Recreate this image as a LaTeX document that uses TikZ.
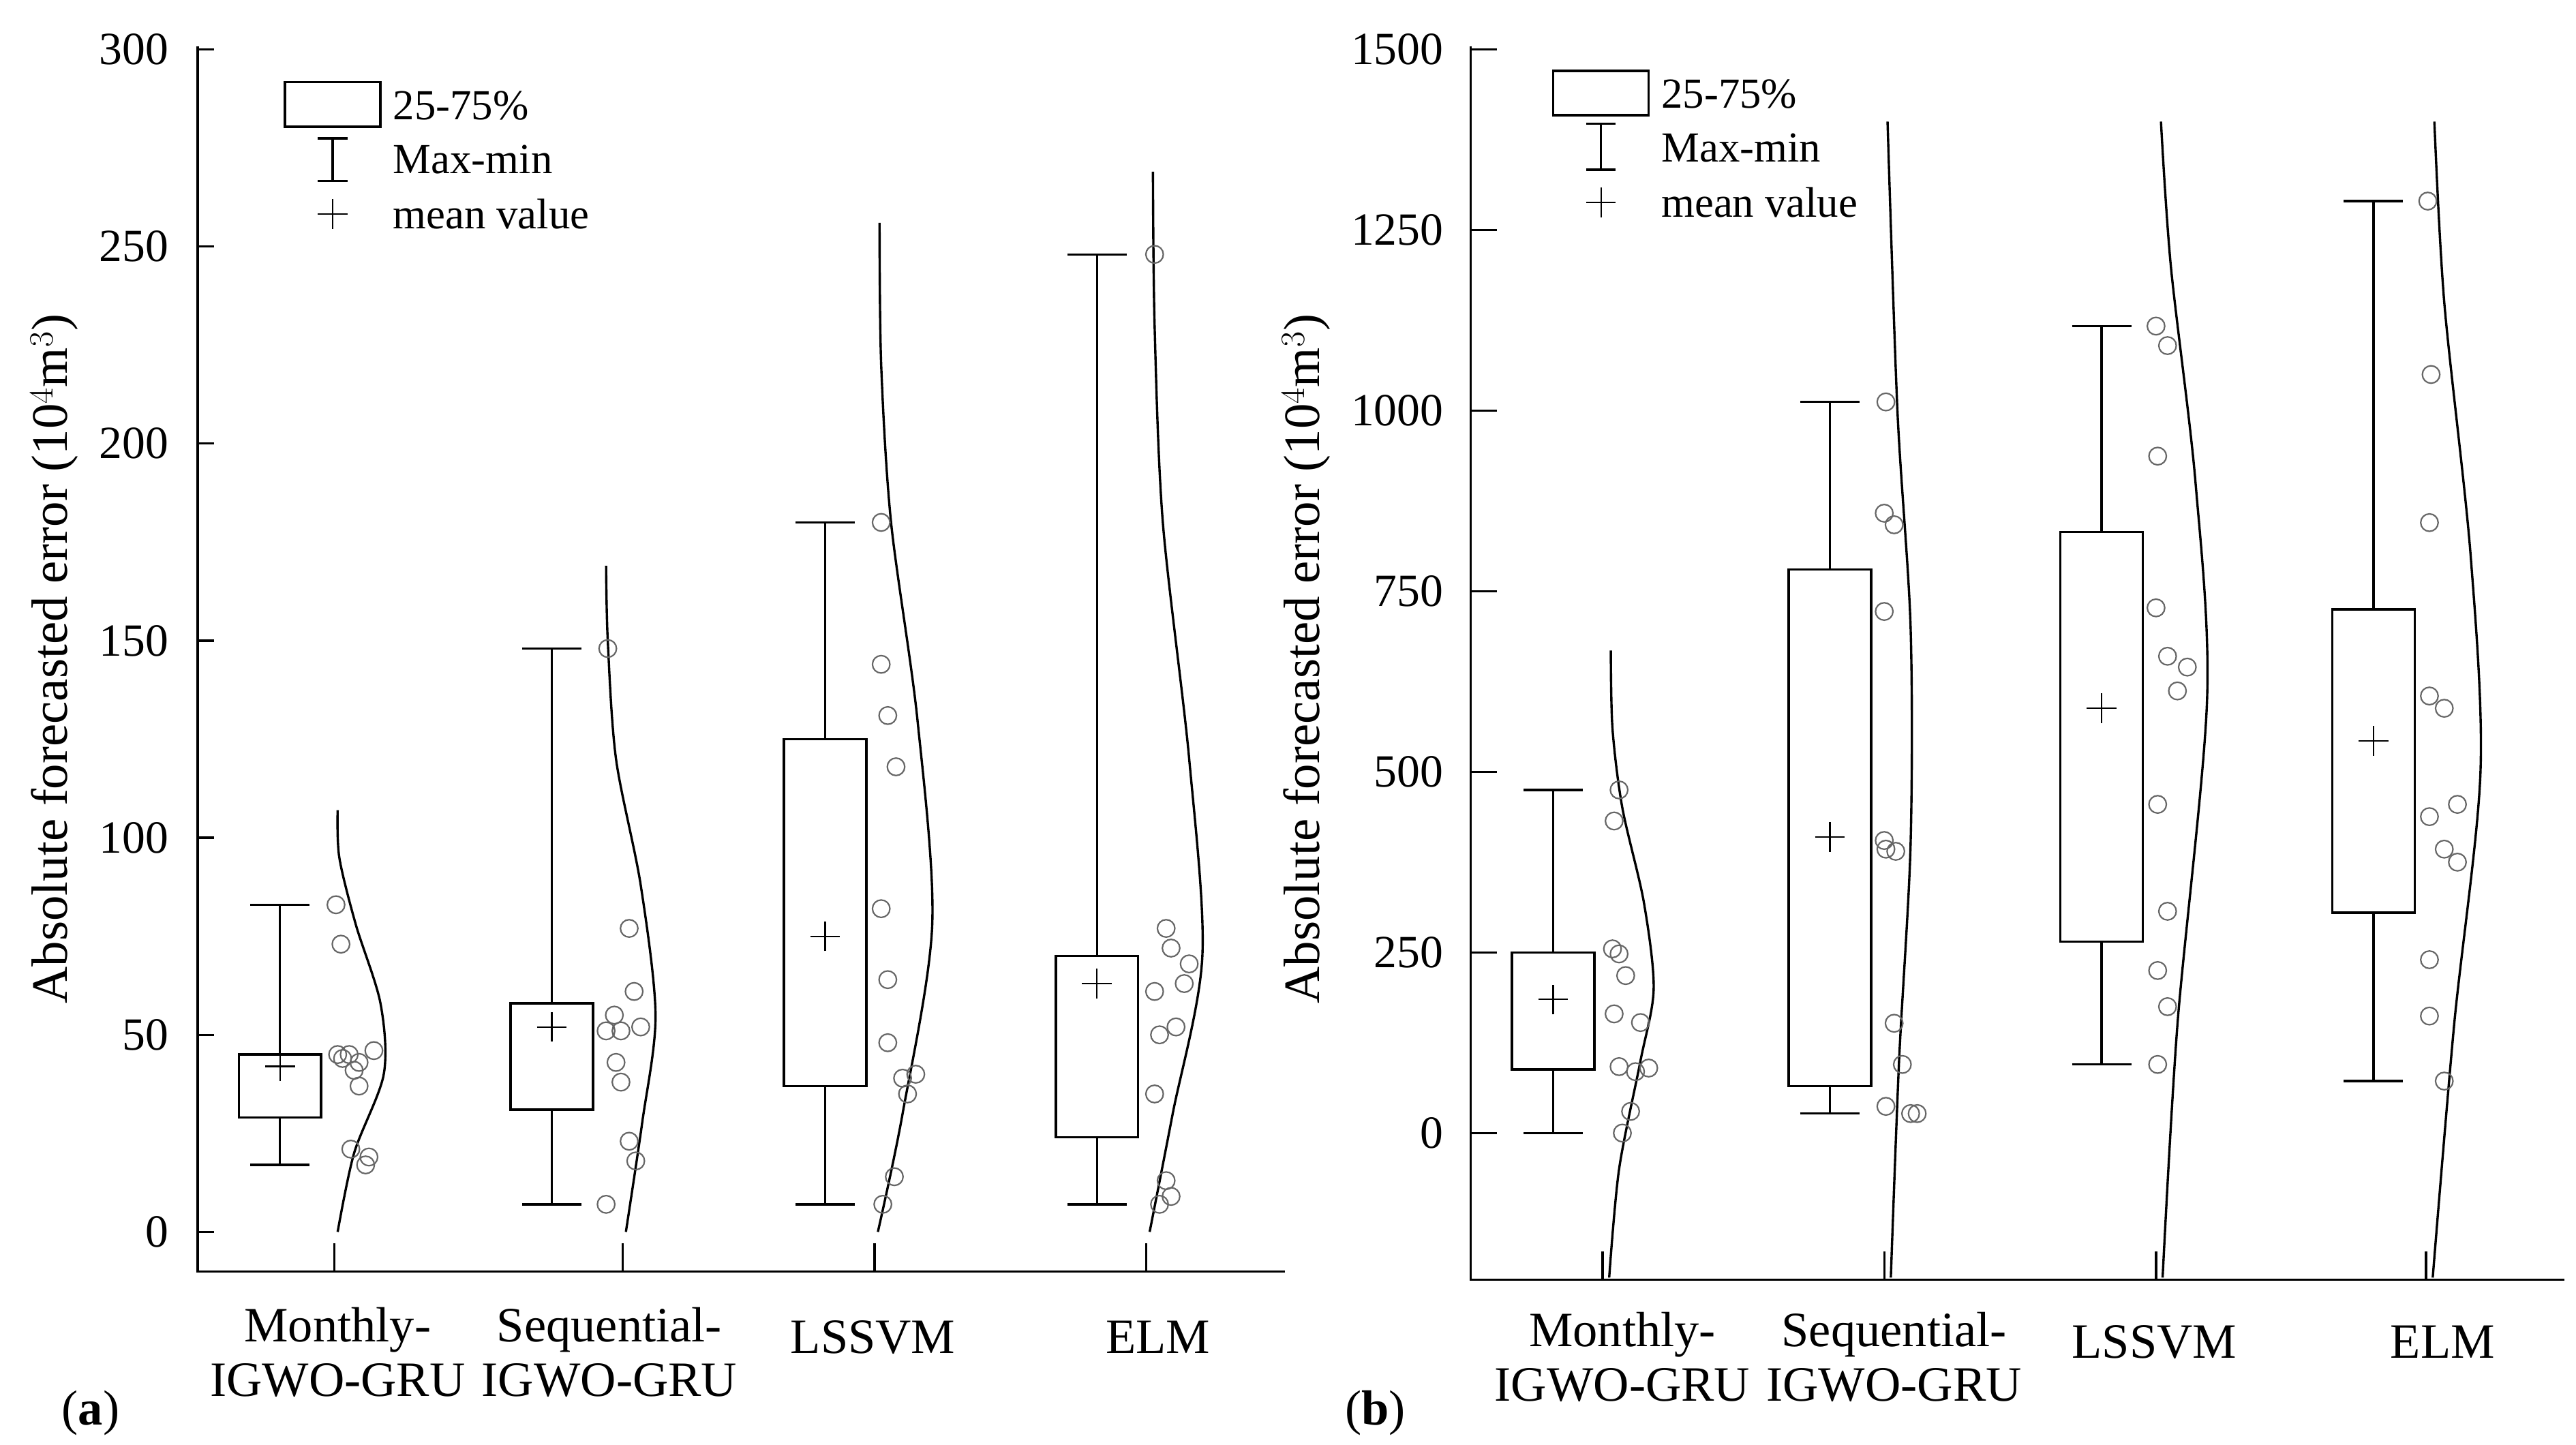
\documentclass[tikz,border=0pt]{standalone}
\usepackage{fontspec}
\setmainfont{Liberation Serif}
\begin{document}
\begin{tikzpicture}[x=1pt,y=-1pt,line width=1.4pt,
  lab/.style={font=\fontsize{30}{33}\selectfont,inner sep=0pt},
  ylab/.style={font=\fontsize{31}{35}\selectfont,inner sep=0pt,rotate=90},
  leg/.style={font=\fontsize{26}{30}\selectfont,inner sep=0pt,anchor=west},
  tl/.style={font=\fontsize{28}{33}\selectfont,inner sep=0pt,anchor=east},
  dot/.style={draw=black!60,line width=0.9pt},
  crv/.style={line width=1.4pt}]
\useasboundingbox (0,0) rectangle (1564,877);
% ================= panel a =================
\draw (120,28) -- (120,772) -- (780,772);
\begin{scope}[shift={(0pt,-748pt)},y=2.3933pt]
 \foreach \v in {0,50,...,300}{\draw (120,\v) -- (130,\v); \node[tl] at (103,\v) {\v};}
 \foreach \x in {205,380,533,698}{\draw (\x-2,-10.03) -- (\x-2,-2.9);}
 \foreach \c/\qa/\qb/\mn/\mx/\me in {170/29/45/17/83/42, 335/31/58/7/148/52, 501/37/125/7/180/75, 666/24/70/7/248/63}{
   \draw (\c-25,\qa) rectangle (\c+25,\qb);
   \draw (\c,\qb) -- (\c,\mx) (\c-18,\mx) -- (\c+18,\mx);
   \draw (\c,\qa) -- (\c,\mn) (\c-18,\mn) -- (\c+18,\mn);
   \draw[line width=0.9pt] (\c-9,\me) -- (\c+9,\me) (\c,\me-3.76) -- (\c,\me+3.76);
 }
 \draw[crv] plot[smooth] coordinates {(205,0)(215,20)(233,40)(231,58)(216,78)(206,95)(205,107)};
 \draw[crv] plot[smooth] coordinates {(380,0)(390,28)(398,55)(389,88)(374,120)(369,150)(368,169)};
 \draw[crv] plot[smooth] coordinates {(533,0)(548,30)(566,78)(557,130)(541,180)(535,220)(534,256)};
 \draw[crv] plot[smooth] coordinates {(698,0)(712,30)(730,70)(722,120)(706,180)(701,230)(700,269)};
 \foreach \x/\v in {204/83,207/73,205/45,208/44,212/45,218/43,227/46,215/41,218/37,213/21,224/19,222/17,
   369/148,382/77,385/61,373/55,368/51,377/51,389/52,374/43,377/38,382/23,386/18,368/7,
   535/180,535/144,539/131,544/118,535/82,539/64,539/48,548/39,556/40,551/35,543/14,536/7,
   701/248,708/77,711/72,722/68,719/63,701/61,714/52,704/50,701/35,708/13,711/9,704/7}
   \draw[dot] (\x,\v) circle[radius=5.3pt];
\end{scope}
\draw (173,50) rectangle (231,77);
\draw (202,84) -- (202,110) (193,84) -- (211,84) (193,110) -- (211,110);
\draw[line width=0.9pt] (193,130) -- (211,130) (202,121) -- (202,139);
\node[leg] at (238,64) {25-75\%};
\node[leg] at (238,97) {Max-min};
\node[leg] at (238,130) {mean value};
\node[ylab] at (33,400) {Absolute forecasted error (10$^4$m$^3$)};
\node[lab,align=center] at (205,821) {Monthly-\\IGWO-GRU};
\node[lab,align=center] at (370,821) {Sequential-\\IGWO-GRU};
\node[lab] at (530,812) {LSSVM};
\node[lab] at (703,812) {ELM};
\node[lab] at (55,858) {(\textbf{a})};
% ================= panel b =================
\draw (893,28) -- (893,777) -- (1557,777);
\begin{scope}[shift={(0pt,-688pt)},y=0.43867pt]
 \foreach \v in {0,250,...,1500}{\draw (893,\v) -- (909,\v); \node[tl] at (877,\v) {\v};}
 \foreach \x in {977,1148,1313,1477}{\draw (\x-4,-202.9) -- (\x-4,-164);}
 \foreach \c/\qa/\qb/\mn/\mx/\me in {943/88/250/0/475/185, 1111/65/780/27/1012/410, 1276/265/832/95/1117/588, 1441/305/725/72/1290/543}{
   \draw (\c-25,\qa) rectangle (\c+25,\qb);
   \draw (\c,\qb) -- (\c,\mx) (\c-18,\mx) -- (\c+18,\mx);
   \draw (\c,\qa) -- (\c,\mn) (\c-18,\mn) -- (\c+18,\mn);
   \draw[line width=0.9pt] (\c-9,\me) -- (\c+9,\me) (\c,\me-20.5) -- (\c,\me+20.5);
 }
 \draw[crv] plot[smooth] coordinates {(977,-200)(983,-50)(996,100)(1004,200)(998,320)(985,450)(979,560)(978,668)};
 \draw[crv] plot[smooth] coordinates {(1148,-200)(1153,100)(1160,400)(1160,700)(1152,1000)(1146,1400)};
 \draw[crv] plot[smooth] coordinates {(1313,-200)(1322,150)(1340,600)(1333,900)(1318,1200)(1312,1400)};
 \draw[crv] plot[smooth] coordinates {(1477,-200)(1490,150)(1506,500)(1500,800)(1484,1150)(1478,1400)};
 \foreach \x/\v in {983/475,980/432,979/255,983/248,987/218,980/165,996/153,983/92,993/85,1001/90,990/30,985/0,
   1145/1012,1144/858,1150/842,1144/722,1144/405,1145/393,1151/390,1150/152,1155/95,1145/37,1160/27,1164/27,
   1309/1117,1316/1090,1310/937,1309/727,1316/660,1328/645,1322/612,1310/455,1316/307,1310/225,1316/175,1310/95,
   1474/1290,1476/1050,1475/845,1475/605,1484/588,1492/455,1475/438,1484/393,1492/375,1475/240,1475/162,1484/72}
   \draw[dot] (\x,\v) circle[radius=5.3pt];
\end{scope}
\draw (943,43) rectangle (1001,70);
\draw (972,75) -- (972,103) (963,75) -- (981,75) (963,103) -- (981,103);
\draw[line width=0.9pt] (963,123) -- (981,123) (972,114) -- (972,132);
\node[leg] at (1008,57) {25-75\%};
\node[leg] at (1008,90) {Max-min};
\node[leg] at (1008,123) {mean value};
\node[ylab] at (793,400) {Absolute forecasted error (10$^4$m$^3$)};
\node[lab,align=center] at (985,824) {Monthly-\\IGWO-GRU};
\node[lab,align=center] at (1150,824) {Sequential-\\IGWO-GRU};
\node[lab] at (1308,815) {LSSVM};
\node[lab] at (1483,815) {ELM};
\node[lab] at (835,858) {(\textbf{b})};
\end{tikzpicture}
\end{document}
